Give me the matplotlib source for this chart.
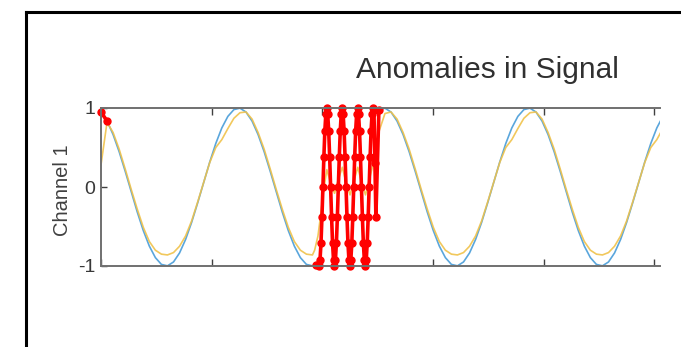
import numpy as np
import matplotlib
matplotlib.use("Agg")
import matplotlib.pyplot as plt
from matplotlib.lines import Line2D

plt.rcParams['font.family'] = ['Liberation Sans', 'DejaVu Sans']
plt.rcParams['axes.unicode_minus'] = False

# ---- data ----
STEP = 5.458          # spacing of the normal samples
A_STEP = 0.87         # spacing of the samples in the anomaly window

# signal, samples 0..35 (before the anomaly)
sig_pre = [0.949, 0.835, 0.664, 0.448, 0.201, -0.059, -0.316, -0.551, -0.748, -0.894, -0.980, -0.998,
           -0.949, -0.835, -0.664, -0.448, -0.201, 0.059, 0.316, 0.551, 0.748, 0.894, 0.980, 0.998,
           0.949, 0.835, 0.664, 0.448, 0.201, -0.059, -0.316, -0.551, -0.748, -0.894, -0.980, -0.998]
# signal, samples 46..93 (after the anomaly)
sig_post = [0.980, 0.998,
            0.949, 0.835, 0.664, 0.448, 0.201, -0.059, -0.316, -0.551, -0.748, -0.894, -0.980, -0.998,
            -0.949, -0.835, -0.664, -0.448, -0.201, 0.059, 0.316, 0.551, 0.748, 0.894, 0.980, 0.998,
            0.949, 0.835, 0.664, 0.448, 0.201, -0.059, -0.316, -0.551, -0.748, -0.894, -0.980, -0.998,
            -0.949, -0.835, -0.664, -0.448, -0.201, 0.059, 0.316, 0.551, 0.748, 0.894]

# anomaly window: first point, then fast oscillation starting at x=197
anom_x0 = 194.0
anom_y0 = -0.99
anom_start = 197.0
anom_y = [-1, -0.92, -0.71, -0.38, 0, 0.38, 0.71, 0.92, 1, 0.92, 0.71, 0.38, 0, -0.38, -0.71, -0.92,
          -1, -0.92, -0.71, -0.38, 0, 0.38, 0.71, 0.92, 1, 0.92, 0.71, 0.38, 0, -0.38, -0.71, -0.92,
          -1, -0.92, -0.71, -0.38, 0, 0.38, 0.71, 0.92, 1, 0.92, 0.71, 0.38, 0, -0.38, -0.71, -0.92,
          -1, -0.92, -0.71, -0.38, 0, 0.38, 0.71, 0.92, 1, 0.97, 0.30, -0.38]

# reconstruction
rec_pre = [0.28, 0.82, 0.69, 0.48, 0.23, -0.03, -0.28, -0.51, -0.69, -0.80, -0.85, -0.86,
           -0.83, -0.75, -0.62, -0.43, -0.19, 0.06, 0.31, 0.50, 0.60, 0.74, 0.87, 0.94,
           0.95, 0.86, 0.69, 0.48, 0.23, -0.03, -0.28, -0.51, -0.69, -0.80, -0.85, -0.86]
rec_mid_x = [193.0, 196.0, 198.5, 201.0, 204.0, 207.5, 211.0, 214.5, 218.0, 221.5, 225.0,
             228.5, 232.0, 235.5, 239.0, 242.5, 246.0, 249.0]
rec_mid_y = [-0.80, -0.62, -0.35, -0.05, 0.22, 0.05, -0.08, 0.10, 0.25, 0.05, -0.10,
             0.08, 0.25, 0.05, -0.10, 0.10, 0.30, 0.45]
rec_post = [0.70, 0.93,
            0.95, 0.86, 0.69, 0.48, 0.23, -0.03, -0.28, -0.51, -0.69, -0.80, -0.85, -0.86,
            -0.83, -0.75, -0.62, -0.43, -0.19, 0.06, 0.31, 0.50, 0.60, 0.74, 0.87, 0.94,
            0.95, 0.86, 0.69, 0.48, 0.23, -0.03, -0.28, -0.51, -0.69, -0.80, -0.85, -0.86,
            -0.83, -0.75, -0.62, -0.43, -0.19, 0.06, 0.31, 0.50, 0.60, 0.74]

yticks = [-1, 0, 1]
xticks = [0, 100, 200, 300, 400, 500]

# ---- assemble series ----
t_pre = np.arange(len(sig_pre)) * STEP
t_post = (46 + np.arange(len(sig_post))) * STEP
t_anom = np.concatenate([[anom_x0], anom_start + np.arange(len(anom_y)) * A_STEP])
y_anom = np.concatenate([[anom_y0], anom_y])

sig_t = np.concatenate([t_pre, t_anom, t_post])
sig_v = np.concatenate([sig_pre, y_anom, sig_post])
rec_t = np.concatenate([t_pre, rec_mid_x, t_post])
rec_v = np.concatenate([rec_pre, rec_mid_y, rec_post])

red_a_t, red_a_v = t_pre[:2], np.array(sig_pre[:2])
red_b_t = np.concatenate([t_anom, t_post[:1]])
red_b_v = np.concatenate([y_anom, sig_post[:1]])

# ---- plot ----
fig = plt.figure(figsize=(6.81, 3.47), dpi=100)
W, H = 681, 347

# window frame (left / top edges of the screenshot)
fig.add_artist(Line2D([25.5 / W, 25.5 / W], [0, 1 - 12 / H], color='black', lw=2.2))
fig.add_artist(Line2D([25.5 / W, 1], [1 - 12 / H, 1 - 12 / H], color='black', lw=2.2))

ax = fig.add_axes([101 / W, 1 - 266 / H, 559 / W, 158 / H])
ax.plot(sig_t, sig_v, color='#5aa6dc', lw=1.2)
ax.plot(rec_t, rec_v, color='#f0c24a', lw=1.2, alpha=0.9)
kw = dict(color='#ff0000', lw=2.6, marker='o', ms=5, mec='#ff0000', mfc='#ff0000', clip_on=False)
ax.plot(red_a_t, red_a_v, **kw)
ax.plot(red_b_t, red_b_v, **kw)

ax.set_xlim(0, 505)
ax.set_ylim(-1, 1)
ax.set_xticks(xticks)
ax.set_xticklabels([])
ax.set_yticks(yticks)
ax.set_yticklabels([str(v) for v in yticks])

gray = '#707070'
for s in ['left', 'top', 'bottom']:
    ax.spines[s].set_color(gray)
    ax.spines[s].set_linewidth(1.4)
ax.spines['right'].set_visible(False)
ax.tick_params(axis='x', direction='in', top=True, length=5, width=1, color='#404040')
ax.tick_params(axis='y', direction='in', length=4, width=1, color='#404040',
               labelsize=14, labelcolor='#383838', pad=4)

fig.text(62 / W, 1 - 190 / H, 'Channel 1', rotation=90, ha='center', va='center',
         fontsize=14.5, color='#404040')
fig.text(487 / W, 1 - 78 / H, 'Anomalies in Signal', ha='center', va='baseline',
         fontsize=21.5, color='#303030')

fig.savefig('out.png', dpi=100)
